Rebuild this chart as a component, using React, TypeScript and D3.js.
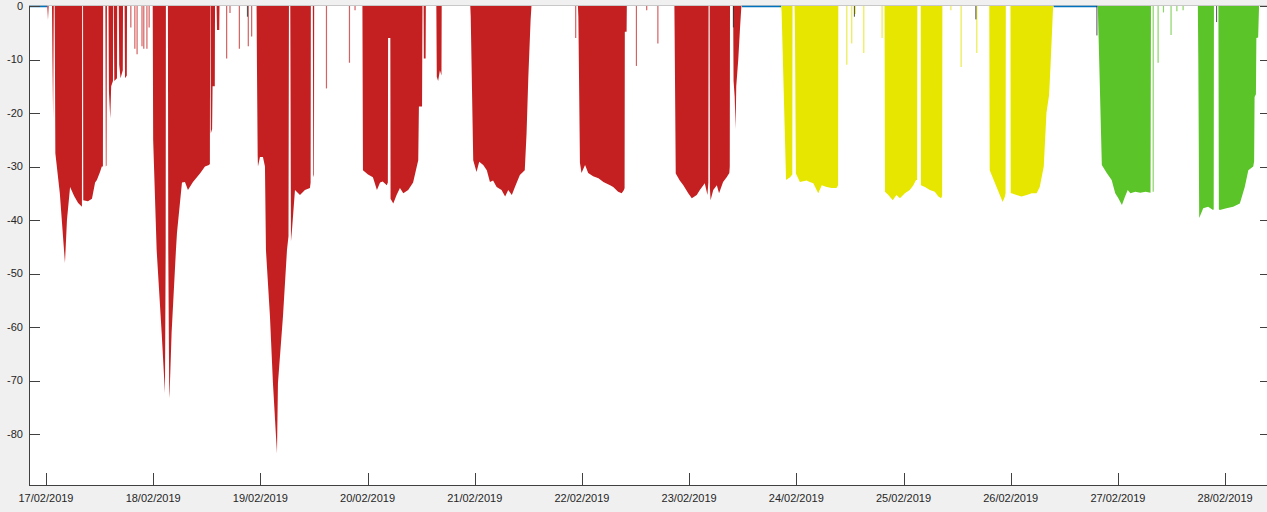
import React from 'react';
import * as d3 from 'd3';

// hours since 17/02/2019 00:00, value
const redSeries: [number, number][] = [
  [0.3,0],[0.45,-2.6],[0.6,0],
  [1.35,0],[1.45,-10],[1.6,-21],[1.75,0],
  [1.95,0],[2.1,-27.5],[3.1,-35],[4.25,-48],[4.7,-40],[5.4,-33.8],[6.3,-35.5],[7.2,-36.8],[8.05,-37.5],[8.1,0],[8.3,0],[8.35,-36.3],[9.4,-36.5],[10.3,-36],[11.0,-33],[11.4,-32.5],[12.1,-31],[12.5,-30],[12.75,-30],[12.8,0],
  [13.3,0],[13.4,-30],[13.55,-29.8],[13.65,0],
  [14.0,0],[14.1,-16],[14.4,-21],[14.6,-15],[15.0,-14],[15.05,0],
  [15.2,0],[15.3,-14],[15.9,-13.5],[15.95,0],
  [16.3,0],[16.4,-11],[16.7,-13.5],[17.2,-12],[17.25,0],
  [17.6,0],[17.7,-13.5],[18.1,-13],[18.15,0],
  [23.9,0],[24.0,-25],[24.78,-45.6],[25.9,-61],[26.64,-72.3],[26.8,-45],[26.85,0],[27.3,0],[27.38,-45],[27.6,-73.3],[27.7,-72],[28.13,-61],[29.1,-45.6],[29.33,-42.4],[30.45,-33],[31.12,-32.9],[31.79,-34.4],[32.91,-32.9],[34.48,-31.3],[35.6,-30],[36.49,-29.7],[36.7,-29.5],[36.75,0],
  [36.85,0],[36.9,-23.8],[37.2,-23],[37.3,-15],[37.8,-15],[37.85,0],[38.2,0],[38.3,-4.5],[38.8,-4.5],[38.85,0],
  [47.15,0],[47.24,-11.4],[47.4,-28],[47.46,-30],[47.91,-28.2],[48.58,-28.2],[49.03,-30],[49.25,-45.6],[50.15,-58],[50.82,-70.5],[51.72,-83.6],[51.94,-70.5],[53.06,-58],[53.96,-45.6],[54.3,-43],[54.4,0],[54.7,0],[54.85,-44],[55.07,-42],[55.75,-34.4],[56.87,-35.3],[57.98,-34.4],[59.1,-34],[59.25,-33],[59.3,0],
  [59.75,0],[59.85,-32],[60.0,-31.5],[60.05,0],
  [70.85,0],[70.97,-30.7],[72.1,-31.5],[73.2,-32],[74.1,-34.4],[74.8,-33],[75.4,-32.8],[76.3,-33.5],[76.55,-33],[76.6,-6],[77.1,-6],[77.15,-36],[77.76,-36.9],[78.5,-35.3],[79.25,-34],[80.0,-35],[81.1,-34.4],[82.2,-33],[83.1,-29.7],[83.35,-28.8],[83.5,-18.8],[84.2,-18.8],[84.3,0],
  [84.55,0],[84.6,-9.8],[85.0,-9.8],[85.05,0],
  [87.4,0],[87.5,-13.2],[87.8,-14],[88.2,-12],[88.55,-13],[88.6,0],
  [95.0,0],[95.1,-2],[95.66,-28.8],[96.4,-31],[97.0,-29.1],[97.9,-29.7],[98.7,-30.7],[99.4,-32.9],[100.1,-32.6],[100.9,-33.8],[102.0,-34.4],[102.8,-35.6],[103.5,-34.4],[104.3,-35.3],[105.0,-33.8],[106.1,-31.6],[107.2,-30.7],[107.6,-23.8],[108.0,-13.2],[108.5,-2.7],[108.7,0],
  [119.1,0],[119.2,-2],[119.55,-29.3],[119.9,-31.2],[120.7,-29.7],[121.4,-31.2],[122.5,-31.8],[123.7,-32.2],[124.8,-32.9],[126.3,-33.5],[127.0,-33.8],[128.1,-34.7],[128.9,-35],[129.4,-34.4],[129.55,-34],[129.6,-4.8],[130.0,-4.8],[130.05,0],
  [140.7,0],[140.8,-10],[141.0,-31.3],[141.9,-32.6],[142.7,-33.5],[143.8,-35],[144.6,-35.9],[145.7,-35.3],[146.4,-34.4],[147.5,-33.1],[148.1,-35.3],[148.3,-33],[148.35,0],[148.6,0],[148.65,-34],[148.8,-36.3],[149.4,-34.4],[150.2,-33.5],[150.7,-35],[151.6,-32.9],[152.4,-32],[153.0,-31.2],[153.1,-30],[153.15,0],
  [153.85,0],[153.95,-14],[154.2,-17],[154.4,-23],[154.55,-15],[155.0,-10],[155.4,-4],[155.7,0],
];

const redSpikes: [number, number][] = [
  [19.0,-4],[19.9,-8],[20.4,-9],[21.5,-7.5],[21.9,-8],[22.6,-8],[23.1,-4],
  [40.45,-9.8],[41.2,-1.3],[43.3,-8],[45.3,-7.5],[46.05,-5.7],
  [62.8,-15.4],[67.95,-10.6],[69.2,-0.8],
  [118.6,-6],[132.2,-11.2],[134.5,-0.8],[137.0,-7],
];

const yellowSeries: [number, number][] = [
  [164.6,0],[164.7,-1],[165.7,-32.5],[166.6,-32],[167.1,-31.5],[167.15,0],[167.6,0],[167.7,-5],[167.9,-31.3],[168.8,-32.9],[170.3,-32.6],[171.0,-32.9],[171.8,-33.1],[172.9,-35],[173.7,-33.5],[174.8,-33.8],[175.9,-34],[177.0,-34],[177.35,-33.5],[177.4,0],
  [187.75,0],[187.85,-34.7],[188.6,-35.3],[189.6,-36.3],[190.4,-35.3],[191.2,-35.9],[192.3,-35],[193.4,-34.4],[194.2,-33.5],[194.8,-32.5],[195.05,-32.5],[195.1,0],[195.85,0],[195.9,-33.5],[196.8,-33.8],[197.9,-34.4],[199.0,-34.7],[199.8,-35.6],[200.4,-35.9],[200.65,-35.5],[200.7,0],
  [211.2,0],[211.3,-30.7],[214.2,-36.6],[214.7,-35.6],[214.85,-35],[214.9,0],[215.95,0],[216.0,-35],[216.2,-35],[217.3,-35.3],[218.4,-35.6],[219.6,-35.3],[220.7,-35],[221.8,-35],[222.5,-33.8],[223.4,-30],[224.0,-20],[224.6,-16.6],[224.9,-11.4],[225.5,0],
];

const yellowSpikes: [number, number][] = [
  [179.3,-11],[180.4,-7],[181.2,-1.5],[183.1,-8.8],[187.2,-6],
  [202.6,-0.8],[204.9,-11.4],[208.4,-8.8],
];

const greenSeries: [number, number][] = [
  [235.5,0],[236.4,-29.7],[237.5,-31.2],[238.6,-32.5],[239.4,-35],[240.1,-35.9],[240.9,-37.2],[241.6,-35.6],[242.2,-34.4],[242.8,-35],[243.9,-34.7],[245.0,-34.9],[246.2,-34.7],[247.3,-34.9],[247.4,0],
  [257.9,0],[258.0,-10],[258.2,-39.6],[259.1,-37.8],[260.2,-37.5],[261.3,-38.1],[261.45,-38],[261.5,0],[262.5,0],[262.6,-38],[262.8,-38.1],[264.3,-37.8],[265.8,-37.5],[267.3,-36.9],[268.4,-33.8],[269.2,-30.7],[270.3,-30],[270.5,-29],[270.6,-17],[270.9,-16.5],[271.0,-6],[271.4,-5.9],[271.6,0],
];

const greenSpikes: [number, number][] = [
  [247.9,-34.7],[249.0,-10.6],[250.2,-1.2],[251.9,-5.4],[253.2,-1],[254.6,-0.8],
];

const blackSpikes: [number, number][] = [
  [45.1,-2],[153.9,-4],[181.0,-2],[208.2,-2.5],[235.3,-5.5],[262.1,-3],
];

const blueZeroRanges: [number, number][] = [
  [-3.8, 0.3],[155.8, 164.6],[225.6, 235.4],
];

const yTicks = [0, -10, -20, -30, -40, -50, -60, -70, -80];
const xTickLabels = ['17/02/2019','18/02/2019','19/02/2019','20/02/2019','21/02/2019','22/02/2019','23/02/2019','24/02/2019','25/02/2019','26/02/2019','27/02/2019','28/02/2019'];

const W = 1267, H = 512;
const L = 29, R = 1272, T = 6, B = 485;
const RED = '#c42021', YEL = '#e6e600', GRN = '#5ac428';
const AX = '#404040';
const FONT = '"Liberation Sans", Arial, Helvetica, sans-serif';

export default function App() {
  const x = d3.scaleLinear().domain([-3.8, 274.5]).range([L, R]);
  const y = d3.scaleLinear().domain([-89.5, 0]).range([B, T]);
  const area = d3.area<[number, number]>()
    .x(d => x(d[0]))
    .y0(y(0))
    .y1(d => y(d[1]));
  const spike = (s: [number, number][], color: string, key: string, w = 1.2, op = 0.7) =>
    s.map((d, i) => (
      <line key={key + i} x1={x(d[0])} x2={x(d[0])} y1={y(0)} y2={y(d[1])}
        stroke={color} strokeWidth={w} opacity={op} />
    ));
  return (
    <svg width={W} height={H} style={{ position: 'absolute', left: 0, top: 0, display: 'block' }}>
      <rect x={0} y={0} width={W} height={H} fill="#f0f0f0" />
      <rect x={L} y={T} width={R - L} height={B - T} fill="#ffffff" />
      <line x1={L} x2={R} y1={T - 0.5} y2={T - 0.5} stroke="#c8c8c8" strokeWidth={1} />
      {blueZeroRanges.map((r, i) => (
        <line key={'b' + i} x1={x(r[0])} x2={x(r[1])} y1={y(0) + 0.5} y2={y(0) + 0.5} stroke="#0072bd" strokeWidth={1.5} />
      ))}
      <path d={area(redSeries) || ''} fill={RED} />
      <path d={area(yellowSeries) || ''} fill={YEL} />
      <path d={area(greenSeries) || ''} fill={GRN} />
      {spike(redSpikes, RED, 'rs')}
      {spike(yellowSpikes, YEL, 'ys')}
      {spike(greenSpikes, GRN, 'gs')}
      {spike(blackSpikes, '#222', 'ks', 1, 0.8)}
      {/* axes */}
      <line x1={L + 0.5} x2={L + 0.5} y1={T} y2={B} stroke={AX} strokeWidth={1} />
      <line x1={L} x2={R} y1={B + 0.5} y2={B + 0.5} stroke={AX} strokeWidth={1} />
      {yTicks.map(t => (
        <g key={'yt' + t}>
          <line x1={L} x2={L + 11} y1={Math.round(y(t)) + 0.5} y2={Math.round(y(t)) + 0.5} stroke={AX} strokeWidth={1} />
          <line x1={R - 12} x2={R} y1={Math.round(y(t)) + 0.5} y2={Math.round(y(t)) + 0.5} stroke={AX} strokeWidth={1} />
          <text x={L - 6} y={y(t)} dy="0.35em" textAnchor="end" fontFamily={FONT} fontSize={11} fill="#262626">{t}</text>
        </g>
      ))}
      {xTickLabels.map((lab, i) => (
        <g key={'xt' + i}>
          <line x1={Math.round(x(i * 24)) + 0.5} x2={Math.round(x(i * 24)) + 0.5} y1={B} y2={B - 12} stroke={AX} strokeWidth={1} />
          <text x={x(i * 24)} y={502} textAnchor="middle" fontFamily={FONT} fontSize={11} fill="#262626">{lab}</text>
        </g>
      ))}
    </svg>
  );
}
